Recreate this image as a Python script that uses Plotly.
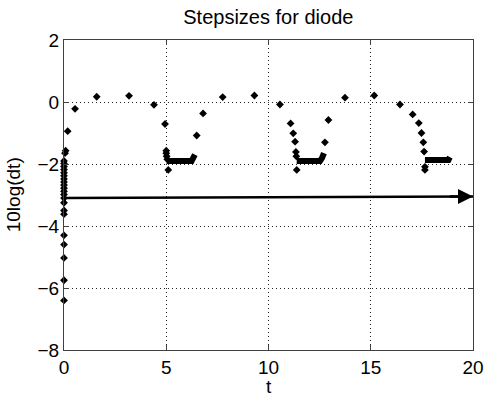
import plotly.graph_objects as go

# sparse step-size points (t, 10log(dt))
t_pts = [0.0, 0.0, 0.0, 0.0, 0.0, 0.0, 0.0, 0.0, 0.0, 0.0, 0.0, 0.0, 0.0, 0.0,
         0.0, 0.0, 0.0, 0.0, 0.0, 0.0, 0.0, 0.05, 0.08, 0.18, 0.54, 1.6, 3.18,
         4.4, 4.94, 5.0, 5.0, 5.02, 5.05, 5.1,
         6.49, 6.8, 7.76, 9.31, 10.56, 11.08, 11.21, 11.3, 11.34, 11.36, 11.38,
         12.76, 12.93, 13.74, 15.17, 16.43, 17.05, 17.35, 17.48, 17.57, 17.61,
         17.65, 17.65]
y_pts = [-6.4, -5.75, -5.03, -4.6, -4.3, -3.62, -3.5, -3.25, -3.1, -2.98, -2.88,
         -2.78, -2.68, -2.58, -2.48, -2.38, -2.28, -2.18, -2.08, -1.98, -1.9,
         -1.65, -1.57, -0.94, -0.22, 0.17, 0.2,
         -0.09, -0.71, -1.57, -1.65, -1.75, -1.85, -2.19,
         -1.08, -0.37, 0.16, 0.21, -0.08, -0.69, -1.01, -1.28, -1.61, -1.75, -2.19,
         -1.3, -0.58, 0.14, 0.21, -0.08, -0.4, -0.68, -1.0, -1.3, -1.6,
         -2.09, -2.19]

# dense runs of tiny steps (drawn as thick strokes)
seg1_t = [5.02, 6.24, 6.32, 6.4]
seg1_y = [-1.9, -1.9, -1.8, -1.7]
seg2_t = [11.38, 12.52, 12.62, 12.71]
seg2_y = [-1.9, -1.9, -1.8, -1.65]
seg3_t = [17.65, 18.8, 18.87]
seg3_y = [-1.87, -1.87, -1.78]
seg0_t = [0.0, 0.0]
seg0_y = [-1.98, -3.3]

# arrow along the time axis
arrow_t = [0, 20]
arrow_y = [-3.1, -3.05]

x_ticks = [0, 5, 10, 15, 20]
y_ticks = [-8, -6, -4, -2, 0, 2]

font = "Liberation Sans, Arial, sans-serif"

fig = go.Figure()
fig.add_trace(go.Scatter(x=arrow_t, y=arrow_y, mode="lines",
                         line=dict(color="black", width=2.5), hoverinfo="skip"))
for st, sy, w in [(seg0_t, seg0_y, 4), (seg1_t, seg1_y, 6), (seg2_t, seg2_y, 6),
                  (seg3_t, seg3_y, 6)]:
    fig.add_trace(go.Scatter(x=st, y=sy, mode="lines",
                             line=dict(color="black", width=w),
                             hoverinfo="skip", cliponaxis=False))
fig.add_trace(go.Scatter(x=t_pts, y=y_pts, mode="markers", cliponaxis=False,
                         marker=dict(symbol="diamond", size=6, color="black")))

fig.add_annotation(x=arrow_t[1], y=arrow_y[1], ax=arrow_t[1] - 1.2, ay=arrow_y[1],
                   xref="x", yref="y", axref="x", ayref="y",
                   showarrow=True, arrowhead=2, arrowsize=1.2, arrowwidth=2.5,
                   arrowcolor="black", text="", standoff=0)

# axis titles placed as paper annotations
fig.add_annotation(x=0.5, y=-0.118, xref="paper", yref="paper", text="t",
                   showarrow=False, xanchor="center", yanchor="middle",
                   font=dict(family=font, size=19, color="black"))
fig.add_annotation(x=-0.124, y=0.5, xref="paper", yref="paper", text="10log(dt)",
                   showarrow=False, xanchor="center", yanchor="middle", textangle=-90,
                   font=dict(family=font, size=19, color="black"))

axis_common = dict(showline=True, linecolor="#404040", linewidth=1, mirror="allticks",
                   ticks="inside", ticklen=5, tickcolor="#404040", automargin=False,
                   showgrid=True, gridcolor="#222222", griddash="1px,3px", gridwidth=1,
                   zeroline=False, tickfont=dict(family=font, size=19, color="black"))

fig.update_layout(
    width=487, height=398,
    margin=dict(l=64, r=14, t=40, b=48),
    paper_bgcolor="white", plot_bgcolor="white",
    showlegend=False,
    title=dict(text="Stepsizes for diode", x=0.551, xanchor="center",
               y=0.957, yanchor="middle",
               font=dict(family=font, size=20, color="black")),
    xaxis=dict(range=[0, 20], tickvals=x_ticks, **axis_common),
    yaxis=dict(range=[-8, 2], tickvals=y_ticks, **axis_common),
)

fig.write_html("out.html", config={"displayModeBar": False},
               post_script="document.body.style.margin='0';document.body.style.padding='0';")
